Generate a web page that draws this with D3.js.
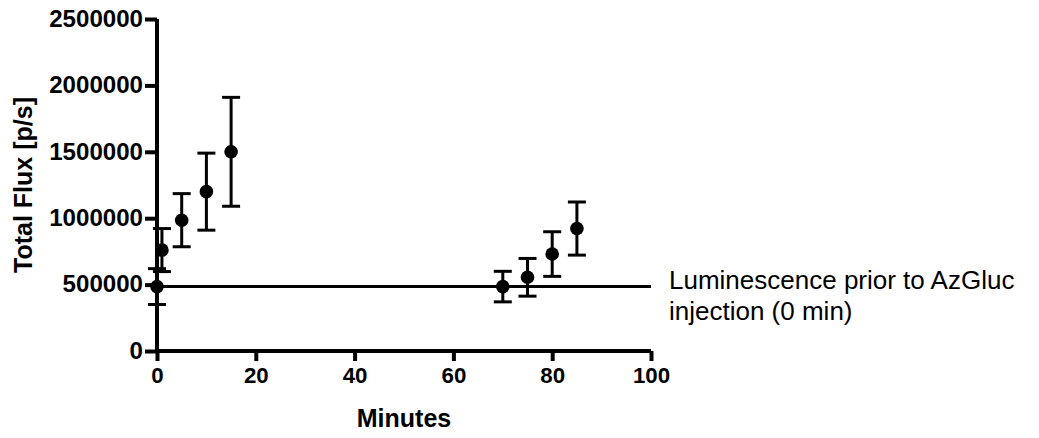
<!DOCTYPE html>
<html><head><meta charset="utf-8">
<script src="https://cdn.jsdelivr.net/npm/d3@7"></script>
<style>body{margin:0;background:#fff;} svg{display:block;}</style>
</head><body>
<svg id="c" width="1039" height="438"></svg>
<script>
const minutes = [0, 1, 5, 10, 15, 70, 75, 80, 85];
const flux    = [485000, 760000, 985000, 1200000, 1500000, 485000, 555000, 730000, 922000];
const errs    = [135000, 162000, 200000, 290000, 410000, 115000, 142000, 168000, 200000];
const baseline = 485000;
const xTicks = [0, 20, 40, 60, 80, 100];
const yTicks = [0, 500000, 1000000, 1500000, 2000000, 2500000];
const annotation = ["Luminescence prior to AzGluc", "injection (0 min)"];

const svg = d3.select("#c");
const x = d3.scaleLinear().domain([0, 100]).range([157, 651]);
const y = d3.scaleLinear().domain([0, 2500000]).range([351, 19]);
const font = "'Liberation Sans', Arial, sans-serif";

// baseline
svg.append("line").attr("x1", x(0)).attr("x2", x(100)).attr("y1", y(baseline)).attr("y2", y(baseline))
  .attr("stroke", "#000").attr("stroke-width", 3);

// axes
const xAxis = svg.append("g").attr("transform", `translate(0,${y(0)})`)
  .call(d3.axisBottom(x).tickValues(xTicks).tickSize(10).tickPadding(6).tickFormat(d3.format("d")));
const yAxis = svg.append("g").attr("transform", `translate(${x(0)},0)`)
  .call(d3.axisLeft(y).tickValues(yTicks).tickSize(12).tickPadding(2).tickFormat(d3.format("d")));
[xAxis, yAxis].forEach(g => {
  g.select(".domain").attr("stroke-width", 4).attr("stroke", "#000");
  g.selectAll(".tick line").attr("stroke-width", 4).attr("stroke", "#000");
  g.selectAll("text").attr("font-family", font).attr("font-weight", "bold").attr("fill", "#000")
    .attr("lengthAdjust", "spacingAndGlyphs");
});
xAxis.selectAll("text").attr("font-size", 22).attr("textLength", d => String(d).length * 12.4);
yAxis.selectAll("text").attr("font-size", 23).attr("textLength", d => String(d).length * 13.4);
xAxis.select(".domain").attr("d", `M${x(0)},0H${x(100)}`);
yAxis.select(".domain").attr("d", `M0,${y(0)}V${y(2500000)}`);

// error bars and points
const data = minutes.map((m, i) => ({m, v: flux[i], e: errs[i]}));
const g = svg.append("g");
data.forEach(d => {
  const cx = x(d.m), top = y(d.v + d.e), bot = y(d.v - d.e);
  g.append("line").attr("x1", cx).attr("x2", cx).attr("y1", top).attr("y2", bot).attr("stroke", "#000").attr("stroke-width", 3);
  [top, bot].forEach(yy => g.append("line").attr("x1", cx - 9).attr("x2", cx + 9).attr("y1", yy).attr("y2", yy)
    .attr("stroke", "#000").attr("stroke-width", 3));
  g.append("circle").attr("cx", cx).attr("cy", y(d.v)).attr("r", 6.8).attr("fill", "#000");
});

// axis titles
svg.append("text").attr("x", 404).attr("y", 427).attr("text-anchor", "middle")
  .attr("font-family", font).attr("font-weight", "bold").attr("font-size", 25).text("Minutes");
svg.append("text").attr("transform", `translate(32,${185}) rotate(-90)`).attr("text-anchor", "middle")
  .attr("font-family", font).attr("font-weight", "bold").attr("font-size", 25).text("Total Flux [p/s]");

// annotation
annotation.forEach((t, i) => svg.append("text").attr("x", 669).attr("y", 289 + i * 31)
  .attr("font-family", font).attr("font-size", 26).attr("fill", "#000").text(t));
</script>
</body></html>
